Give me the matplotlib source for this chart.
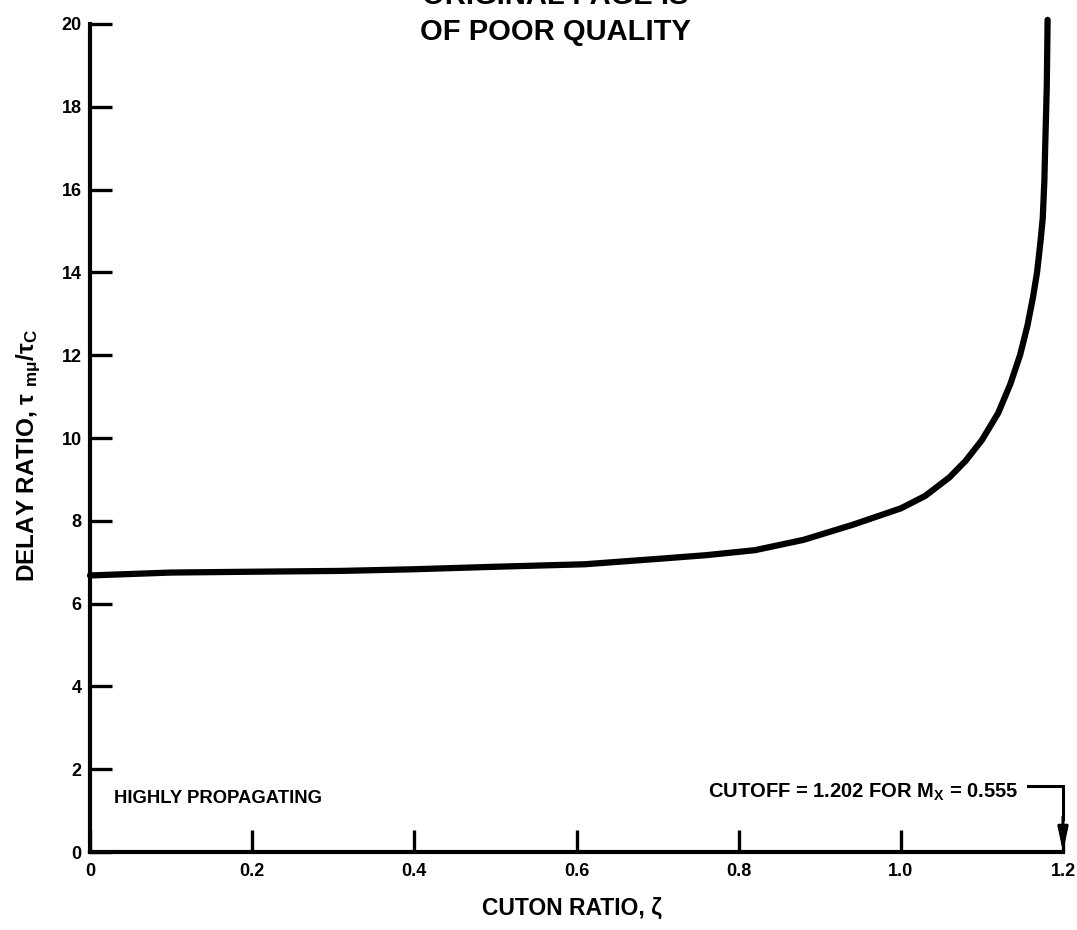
import matplotlib
matplotlib.use("Agg")
import matplotlib.pyplot as plt

plt.rcParams['font.family'] = ['Liberation Sans', 'DejaVu Sans']
plt.rcParams['mathtext.fontset'] = 'custom'
plt.rcParams['mathtext.rm'] = 'Liberation Sans:bold'
plt.rcParams['mathtext.it'] = 'Liberation Sans:bold'
plt.rcParams['mathtext.bf'] = 'Liberation Sans:bold'

# Data
zeta = [0.0, 0.1, 0.2, 0.31, 0.4, 0.5, 0.61, 0.70, 0.76, 0.82, 0.88, 0.94,
        1.0, 1.03, 1.06, 1.08, 1.10, 1.12, 1.135, 1.147, 1.156, 1.163, 1.168,
        1.172, 1.175, 1.177, 1.178, 1.180, 1.181]
delay = [6.68, 6.75, 6.77, 6.79, 6.83, 6.89, 6.95, 7.08, 7.17, 7.29, 7.54, 7.90,
         8.30, 8.60, 9.05, 9.45, 9.95, 10.6, 11.3, 12.0, 12.7, 13.4, 14.0,
         14.7, 15.3, 16.2, 17.0, 18.5, 20.1]

x_ticks = [0.0, 0.2, 0.4, 0.6, 0.8, 1.0, 1.2]
x_ticklabels = ['0', '0.2', '0.4', '0.6', '0.8', '1.0', '1.2']
y_ticks = [0, 2, 4, 6, 8, 10, 12, 14, 16, 18, 20]
y_ticklabels = ['0', '2', '4', '6', '8', '10', '12', '14', '16', '18', '20']

cutoff_x = 1.2
note_text = 'HIGHLY PROPAGATING'
cutoff_text = r'CUTOFF = 1.202 FOR M$_\mathrm{X}$ = 0.555'

W, H = 1077, 930
fig = plt.figure(figsize=(W / 100, H / 100), dpi=100)
ax = fig.add_axes([90 / W, 78 / H, (1063 - 90) / W, (852 - 24) / H])

ax.plot(zeta, delay, color='black', lw=4.5, solid_capstyle='round',
        solid_joinstyle='round', clip_on=False)

ax.set_xlim(0, 1.2)
ax.set_ylim(0, 20)
for s in ['top', 'right']:
    ax.spines[s].set_visible(False)
for s in ['left', 'bottom']:
    ax.spines[s].set_linewidth(3)
    ax.spines[s].set_capstyle('projecting')

ax.set_xticks(x_ticks)
ax.set_xticklabels(x_ticklabels, fontsize=13, fontweight='bold')
ax.set_yticks(y_ticks)
ax.set_yticklabels(y_ticklabels, fontsize=13, fontweight='bold')
ax.tick_params(axis='both', direction='in', length=16, width=2.4, pad=8)
ax.tick_params(axis='y', pad=6)

ax.text(0.03, 1.3, note_text, fontsize=13.3, fontweight='bold',
        ha='left', va='center')
ax.text(1.145, 1.45, cutoff_text, fontsize=14.5, fontweight='bold',
        ha='right', va='center')
ax.plot([1.157, cutoff_x, cutoff_x], [1.6, 1.6, 0.8], color='black', lw=2.2,
        clip_on=False, solid_joinstyle='miter')
ax.annotate('', xy=(cutoff_x, 0.0), xytext=(cutoff_x, 0.85),
            arrowprops=dict(arrowstyle='-|>,head_length=1.4,head_width=0.3',
                            color='black', lw=2.2, shrinkA=0, shrinkB=0),
            annotation_clip=False)

fig.text(572 / W, 1 - 908 / H, 'CUTON RATIO, ζ', fontsize=16.5, fontweight='bold',
         ha='center', va='center')
fig.text(29 / W, 1 - 455 / H,
         r'DELAY RATIO, τ $_{\mathrm{m\mu}}$/τ$_\mathrm{C}$',
         fontsize=17.5, fontweight='bold', rotation=90, ha='center', va='center')

fig.text(555 / W, 1 - 4 / H, 'ORIGINAL PAGE IS', fontsize=21, fontweight='bold',
         ha='center', va='baseline')
fig.text(555 / W, 1 - 40 / H, 'OF POOR QUALITY', fontsize=21, fontweight='bold',
         ha='center', va='baseline')

fig.savefig('out.png', dpi=100)
